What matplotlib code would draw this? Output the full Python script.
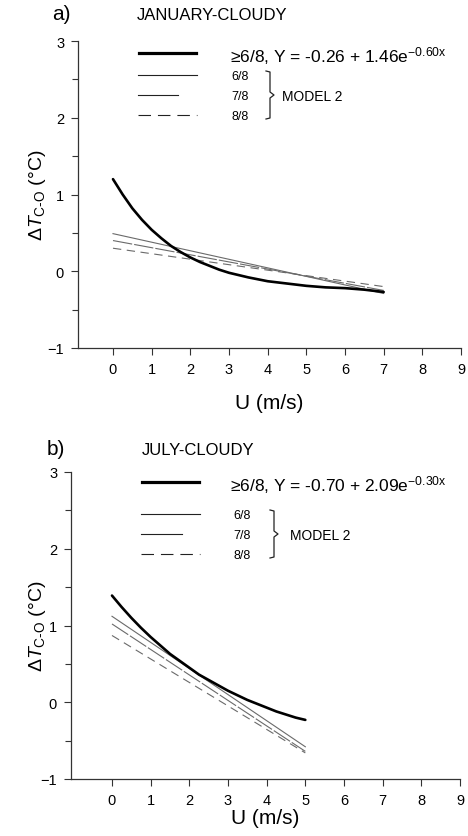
import matplotlib
matplotlib.use('Agg')
import matplotlib.pyplot as plt
from matplotlib.lines import Line2D

plt.rcParams['font.family'] = ['Liberation Sans', 'DejaVu Sans']
plt.rcParams['mathtext.fontset'] = 'custom'
plt.rcParams['mathtext.rm'] = 'Liberation Sans'
plt.rcParams['mathtext.it'] = 'Liberation Sans:italic'
plt.rcParams['mathtext.bf'] = 'Liberation Sans:bold'
plt.rcParams['lines.scale_dashes'] = False

# ---- data ----
# a) January, cloudy
jan_u = [0, 0.25, 0.5, 0.75, 1, 1.25, 1.5, 1.75, 2, 2.25, 2.5, 2.75, 3, 3.5,
         4, 4.5, 5, 5.5, 6, 6.5, 7]
jan_fit = [1.20, 1.00, 0.82, 0.67, 0.54, 0.43, 0.33, 0.25, 0.18, 0.12, 0.07,
           0.02, -0.02, -0.08, -0.13, -0.16, -0.19, -0.21, -0.22, -0.24, -0.27]
jan_model_u = [0, 7]
jan_model = {'6/8': [0.49, -0.29], '7/8': [0.40, -0.25], '8/8': [0.30, -0.20]}
jan_eq = '\u22656/8, Y = -0.26 + 1.46e$^{\\mathrm{-0.60x}}$'

# b) July, cloudy
jul_u = [0, 0.25, 0.5, 0.75, 1, 1.25, 1.5, 1.75, 2, 2.25, 2.5, 2.75, 3, 3.25,
         3.5, 3.75, 4, 4.25, 4.5, 4.75, 5]
jul_fit = [1.39, 1.24, 1.10, 0.97, 0.85, 0.74, 0.63, 0.54, 0.45, 0.36, 0.29,
           0.22, 0.15, 0.09, 0.03, -0.02, -0.07, -0.12, -0.16, -0.20, -0.23]
jul_model_u = [0, 5]
jul_model = {'6/8': [1.12, -0.58], '7/8': [1.02, -0.64], '8/8': [0.87, -0.66]}
jul_eq = '\u22656/8, Y = -0.70 + 2.09e$^{\\mathrm{-0.30x}}$'

x_ticks = list(range(0, 10))
y_major = [-1, 0, 1, 2, 3]
y_minor = [-0.5, 0.5, 1.5, 2.5]

W, H = 468, 837
fig = plt.figure(figsize=(W / 100, H / 100), dpi=100)

model_styles = {'6/8': dict(linestyle='-'),
                '7/8': dict(dashes=(14, 1.5)),
                '8/8': dict(dashes=(6, 4))}
grey = '#6a6a6a'


def fx(px):
    return px / W


def fy(py):
    return 1 - py / H


def make_axes(left, right, top, bottom, xmin, xpad, ylab_x):
    ax = fig.add_axes([fx(left), fy(bottom), (right - left) / W, (bottom - top) / H])
    ax.set_xlim(xmin, 9)
    ax.set_ylim(-1, 3)
    for s in ['top', 'right']:
        ax.spines[s].set_visible(False)
    for s in ['left', 'bottom']:
        ax.spines[s].set_linewidth(0.9)
        ax.spines[s].set_color('#333333')
    ax.set_xticks(x_ticks)
    ax.set_yticks(y_major)
    ax.set_yticks(y_minor, minor=True)
    ax.set_yticklabels(['\u22121', '0', '1', '2', '3'])
    ax.tick_params(axis='both', which='both', direction='out', length=5,
                   width=0.8, color='#333333', labelsize=10.5, pad=5)
    ax.tick_params(axis='y', which='minor', length=4.5)
    ax.set_xlabel('U (m/s)', fontsize=15, labelpad=xpad)
    ax.set_ylabel('$\\Delta T_{\\mathrm{C\\text{-}O}}$ (\u00b0C)', fontsize=14)
    # right edge of the rotated label sits ~47 px from the image's left edge
    ax.yaxis.set_label_coords((ylab_x - left) / (right - left), 0.5)
    ax.patch.set_alpha(0)
    return ax


def draw_panel(ax, u, fit, mu, model):
    ax.plot(u, fit, color='black', lw=1.9, solid_capstyle='round',
            solid_joinstyle='round', zorder=3)
    for name, vals in model.items():
        ax.plot(mu, vals, color=grey, lw=0.8, **model_styles[name])


def draw_key(tag, tag_x, title, title_x, y0, line_x, eq, rows_y, short_x1,
             lab_x, brace_x, model_x):
    fig.text(fx(tag_x), fy(y0), tag, fontsize=15, va='center', ha='left')
    fig.text(fx(title_x), fy(y0 + 1), title, fontsize=12, va='center', ha='left')
    y_bold = rows_y[0]
    fig.add_artist(Line2D([fx(line_x), fx(line_x + 57)], [fy(y_bold), fy(y_bold)],
                          color='black', lw=2.3))
    fig.text(fx(230), fy(y_bold + 2), eq, fontsize=12.5, va='center', ha='left')
    names = ['6/8', '7/8', '8/8']
    ends = [line_x + 58, short_x1, line_x + 58]
    for name, yy, x1 in zip(names, rows_y[1:], ends):
        style = dict(linestyle='-') if name != '8/8' else dict(dashes=(9, 5))
        fig.add_artist(Line2D([fx(line_x - 1), fx(x1)], [fy(yy), fy(yy)],
                              color='#222222', lw=0.8, **style))
        fig.text(fx(lab_x), fy(yy + 1), name, fontsize=9, va='center', ha='left')
    top, bot = rows_y[1] - 4, rows_y[3] + 4
    mid = (top + bot) / 2
    bx = [brace_x, brace_x + 4, brace_x + 4, brace_x + 8, brace_x + 4,
          brace_x + 4, brace_x]
    by = [top, top + 1, mid - 3, mid, mid + 3, bot - 1, bot]
    fig.add_artist(Line2D([fx(v) for v in bx], [fy(v) for v in by],
                          color='#222222', lw=0.9))
    fig.text(fx(model_x), fy(mid + 1), 'MODEL 2', fontsize=10, va='center', ha='left')


ax_a = make_axes(78, 461, 42, 349, -0.905, 12.5, 48)
draw_panel(ax_a, jan_u, jan_fit, jan_model_u, jan_model)
draw_key('a)', 52, 'JANUARY-CLOUDY', 137, 15, 139, jan_eq, [54, 76, 96, 116],
         178, 231, 266, 282)

ax_b = make_axes(71, 460, 473, 780, -1.06, 1, 48)
draw_panel(ax_b, jul_u, jul_fit, jul_model_u, jul_model)
draw_key('b)', 47, 'JULY-CLOUDY', 142, 450, 142, jul_eq, [483, 515, 535, 555],
         182, 233, 270, 290)

fig.savefig('out.png', dpi=100, facecolor='white')
